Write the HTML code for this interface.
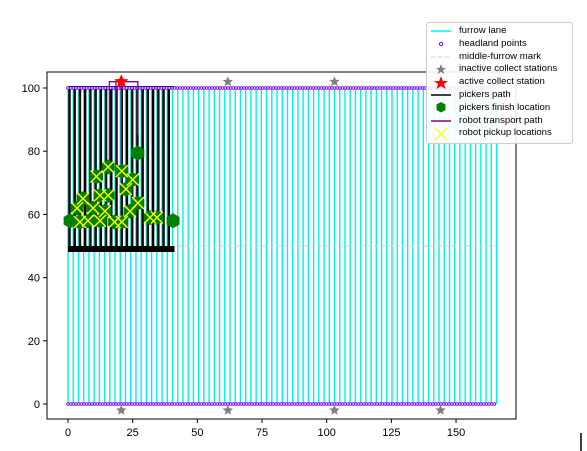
<!DOCTYPE html>
<html><head><meta charset="utf-8"><style>
body{margin:0;background:#fff;}
svg{display:block;font-family:"Liberation Sans","DejaVu Sans",sans-serif;}
</style></head><body>
<svg id="c" width="587" height="451"></svg>
<script>
const furrowX = []; for (let i = 0; i <= 82; i++) furrowX.push(i * 2.02);
const pickerFurrows = furrowX.filter(v => v <= 40);
const inactiveStations = [[20.6,-2],[61.8,-2],[103,-2],[144,-2],[61.8,102],[103,102]];
const activeStations = [[20.6,102]];
const finishX = [0.8,3.5,5.8,9.7,11,12.4,14.3,15.5,18,20.8,22.4,24,25,27,27,31.7,34.4,40.6,4.6,7.7,12.4,20.8,15.5];
const finishY = [58,62,65,62,72,66,61,66,57.6,57.6,68,61,71,63.6,79.4,59,59,58,57.6,58,58,73.7,75];
const pickX = [15.5,20.8,25,11,22.4,15.5,12.4,5.8,3.5,9.7,27,24,14.3,4.6,7.7,12.4,18,20.8,31.7,34.4];
const pickY = [75,73.7,71,72,68,66,66,65,62,62,63.6,61,61,57.6,58,58,57.6,57.6,59,59];
const xTicks = [0,25,50,75,100,125,150];
const yTicks = [0,20,40,60,80,100];

const NS = "http://www.w3.org/2000/svg";
const svg = document.getElementById('c');
const L=47,R=516,T=72,B=419;
const sx = v => 68 + v * 2.587;
const sy = v => 404 - v * 3.16;
function el(tag, attrs, parent){const e=document.createElementNS(NS,tag);for(const k in attrs)e.setAttribute(k,attrs[k]);(parent||svg).appendChild(e);return e;}

const plot = el('g',{});


furrowX.forEach(x=>{const l=el('line',{x1:sx(x),x2:sx(x),y1:sy(0),y2:sy(100),stroke:'#00f0f0','stroke-width':1.4},plot);

});
const mid=el('line',{x1:sx(40),x2:sx(165),y1:sy(50),y2:sy(50),stroke:'#ffb6c1','stroke-dasharray':'4,3','stroke-width':1},plot);


pickerFurrows.forEach(x=>{const l=el('line',{x1:sx(x)+1.5,x2:sx(x)+1.5,y1:sy(50),y2:sy(100),stroke:'#000','stroke-width':2.4},plot);

});
[[100],[50]].forEach(([y])=>{const l=el('rect',{x:sx(0),y:sy(y)-(y==100?2:0),width:sx(40)-sx(0)+3,height:y==100?3:6,fill:'#000'},plot);

});
for(let i=0;i<=160;i++){const x=i*1.03;[0,100].forEach(y=>{const c=el('circle',{cx:sx(x),cy:sy(y),r:1.3,fill:'#fff',stroke:'#7a00ff','stroke-width':0.9},plot);

});}
const rp=el('path',{d:`M${sx(16)} ${sy(75)} V${sy(102)} H${sx(27)} V${sy(85)} M${sx(20.6)} ${sy(102)} V${sy(68)} M${sx(18.5)} ${sy(102)} V${sy(73)}`,fill:'none',stroke:'#8b008b','stroke-width':1.3},plot);


function hex(cx,cy,r){let p=[];for(let k=0;k<6;k++){const a=Math.PI/3*k+Math.PI/6;p.push((cx+r*Math.cos(a)).toFixed(1)+','+(cy+r*Math.sin(a)).toFixed(1));}return p.join(' ');}
finishX.forEach((x,i)=>{const h=el('polygon',{points:hex(sx(x),sy(finishY[i]),7.5),fill:'#008000'},plot);

});
pickX.forEach((x,i)=>{const cx=sx(x),cy=sy(pickY[i]);const p=el('path',{d:`M${cx-6} ${cy-6}L${cx+6} ${cy+6}M${cx-6} ${cy+6}L${cx+6} ${cy-6}`,stroke:'#ffff00','stroke-width':1.4},plot);

});
function star(cx,cy,r,fill){let p=[];for(let k=0;k<10;k++){const a=-Math.PI/2+k*Math.PI/5;const rr=k%2?r*0.45:r;p.push((cx+rr*Math.cos(a)).toFixed(1)+','+(cy+rr*Math.sin(a)).toFixed(1));}return el('polygon',{points:p.join(' '),fill:fill});}
inactiveStations.forEach(([x,y])=>{const s=star(sx(x),sy(y),5.5,'#808080');

});
activeStations.forEach(([x,y])=>{const s=star(sx(x),sy(y),7.5,'#ff0000');

});
const fr=el('rect',{x:L,y:T,width:R-L,height:B-T,fill:'none',stroke:'#000','stroke-width':1});


xTicks.forEach(v=>{el('line',{x1:sx(v),x2:sx(v),y1:B,y2:B+4,stroke:'#000'});const t=el('text',{x:sx(v),y:B+17,'text-anchor':'middle','font-size':11});t.textContent=v;

});
yTicks.forEach(v=>{el('line',{x1:L-4,x2:L,y1:sy(v),y2:sy(v),stroke:'#000'});const t=el('text',{x:L-7,y:sy(v)+4,'text-anchor':'end','font-size':11});t.textContent=v;

});
el('line',{x1:581,x2:581,y1:433,y2:451,stroke:'#000','stroke-width':1.5});
</script>
<div style="position:absolute;left:426px;top:22px;width:147px;height:122px;border:1px solid #ccc;border-radius:3px;background:rgba(255,255,255,0.9);font-family:'Liberation Sans',sans-serif;font-size:9.6px;line-height:12.8px;padding-top:2px;box-sizing:border-box;white-space:nowrap;">
<svg width="30" height="118" style="position:absolute;left:2px;top:2px">
<line x1="2" x2="22" y1="6" y2="6" stroke="#00f0f0" stroke-width="1.5"/>
<circle cx="12" cy="19" r="1.6" fill="#fff" stroke="#7a00ff"/>
<line x1="2" x2="22" y1="32" y2="32" stroke="#ffb6c1" stroke-dasharray="4,3"/>
<polygon points="12,39 13.5,43 17,43 14,45.5 15.5,49 12,47 8.5,49 10,45.5 7,43 10.5,43" fill="#808080"/>
<polygon points="12,51 13.8,56 19,56 15,59 16.5,64 12,61 7.5,64 9,59 5,56 10.2,56" fill="#ff0000"/>
<line x1="2" x2="22" y1="70" y2="70" stroke="#000" stroke-width="1.5"/>
<polygon points="12,77 16.5,79.5 16.5,85 12,87.5 7.5,85 7.5,79.5" fill="#008000"/>
<line x1="2" x2="22" y1="96" y2="96" stroke="#8b008b" stroke-width="1.5"/>
<path d="M6 103L18 115M6 115L18 103" stroke="#ffff00" stroke-width="1.2"/>
</svg>
<div style="margin-left:32px">
<div>furrow lane</div>
<div>headland points</div>
<div>middle-furrow mark</div>
<div>inactive collect stations</div>
<div>active collect station</div>
<div>pickers path</div>
<div>pickers finish location</div>
<div>robot transport path</div>
<div>robot pickup locations</div>
</div></div>
</body></html>
